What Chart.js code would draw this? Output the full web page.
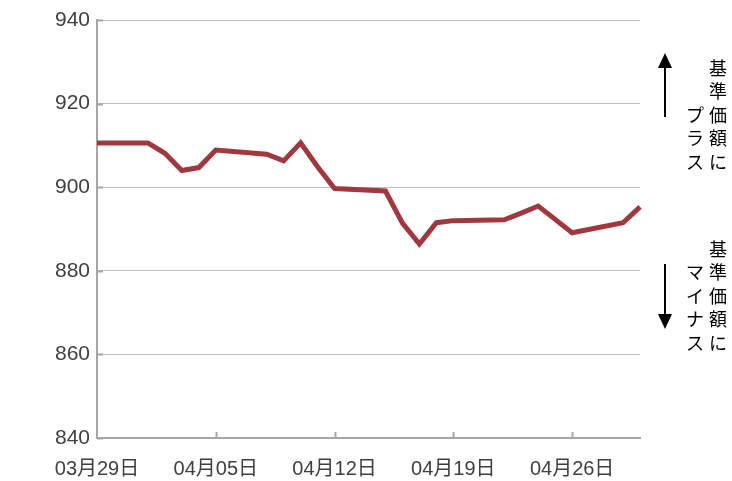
<!DOCTYPE html>
<html>
<head>
<meta charset="utf-8">
<script src="https://cdn.jsdelivr.net/npm/chart.js@4"></script>
<style>
  html, body { margin: 0; padding: 0; background: #fff; }
  #wrap { width: 732px; height: 481px; }
</style>
</head>
<body>
<div id="wrap"><canvas id="myChart" width="732" height="481"></canvas></div>
<script>
// calendar days 03/29 - 04/30, weekends have no value
const dates = [
  '03月29日','03月30日','03月31日','04月01日','04月02日','04月03日','04月04日',
  '04月05日','04月06日','04月07日','04月08日','04月09日','04月10日','04月11日',
  '04月12日','04月13日','04月14日','04月15日','04月16日','04月17日','04月18日',
  '04月19日','04月20日','04月21日','04月22日','04月23日','04月24日','04月25日',
  '04月26日','04月27日','04月28日','04月29日','04月30日'
];
const navValues = [
  910.6, null, null, 910.6, 908.1, 904.0, 904.7,
  908.9, null, null, 907.9, 906.3, 910.6, 904.9,
  899.7, null, null, 899.1, 891.4, 886.4, 891.5,
  892.0, null, null, 892.2, 893.8, 895.5, 892.3,
  889.1, null, null, 891.5, 895.3
];
const yTicks = [840, 860, 880, 900, 920, 940];
const upperNote = ['基準価額に', 'プラス'];
const lowerNote = ['基準価額に', 'マイナス'];

const FONT = '"Liberation Sans", "Noto Sans CJK JP", sans-serif';
const NOTE_FONT = '"Noto Sans CJK JP", sans-serif';

// inward tick marks + right side notes
const extras = {
  id: 'extras',
  afterDraw(chart) {
    const ctx = chart.ctx;
    const x = chart.scales.x, y = chart.scales.y;
    const area = chart.chartArea;
    ctx.save();
    ctx.strokeStyle = '#a6a6a6';
    ctx.lineWidth = 2;
    dates.forEach((d, i) => {
      if (i % 7 !== 0 || i === 0) return;
      const px = Math.round(x.getPixelForValue(i)) + 0.5;
      ctx.beginPath();
      ctx.moveTo(px, area.bottom);
      ctx.lineTo(px, area.bottom - 6);
      ctx.stroke();
    });
    yTicks.forEach(v => {
      const py = Math.round(y.getPixelForValue(v)) + 0.5;
      ctx.beginPath();
      ctx.moveTo(area.left, py);
      ctx.lineTo(area.left + 6, py);
      ctx.stroke();
    });

    // arrows
    ctx.strokeStyle = '#000';
    ctx.fillStyle = '#000';
    ctx.lineWidth = 2;
    const ax = 665;
    ctx.beginPath(); ctx.moveTo(ax, 117); ctx.lineTo(ax, 66); ctx.stroke();
    ctx.beginPath(); ctx.moveTo(ax, 53); ctx.lineTo(ax - 7, 68); ctx.lineTo(ax + 7, 68); ctx.closePath(); ctx.fill();
    ctx.beginPath(); ctx.moveTo(ax, 264); ctx.lineTo(ax, 316); ctx.stroke();
    ctx.beginPath(); ctx.moveTo(ax, 329); ctx.lineTo(ax - 7, 314); ctx.lineTo(ax + 7, 314); ctx.closePath(); ctx.fill();

    // vertical notes
    ctx.font = '18px ' + NOTE_FONT;
    ctx.fillStyle = '#000';
    ctx.textAlign = 'center';
    ctx.textBaseline = 'middle';
    const step = 23.5;
    function column(text, cx, bottomY) {
      const chars = Array.from(text);
      chars.forEach((c, k) => {
        ctx.fillText(c, cx, bottomY - (chars.length - 1 - k) * step);
      });
    }
    column(upperNote[0], 718, 162);
    column(upperNote[1], 695, 162);
    column(lowerNote[0], 718, 343);
    column(lowerNote[1], 695, 343);
    ctx.restore();
  }
};

new Chart(document.getElementById('myChart').getContext('2d'), {
  type: 'line',
  data: {
    labels: dates,
    datasets: [{
      data: navValues,
      borderColor: '#a0393f',
      borderWidth: 5,
      pointRadius: 0,
      tension: 0,
      spanGaps: true,
      borderJoinStyle: 'miter'
    }]
  },
  options: {
    responsive: false,
    animation: false,
    layout: { padding: { top: 20, right: 92, left: 0, bottom: 0 } },
    plugins: { legend: { display: false }, tooltip: { enabled: false } },
    scales: {
      x: {
        offset: false,
        grid: { display: false },
        border: { color: '#a6a6a6', width: 2 },
        afterFit: s => { s.height = 43; },
        ticks: {
          autoSkip: false,
          maxRotation: 0,
          color: '#404040',
          font: { size: 20, family: FONT },
          padding: 11,
          callback: (v, i) => (i % 7 === 0 ? dates[i] : '')
        }
      },
      y: {
        min: 840,
        max: 940,
        afterBuildTicks: s => { s.ticks = yTicks.map(v => ({ value: v })); },
        afterFit: s => { s.width = 97; },
        grid: { color: '#bfbfbf', lineWidth: 1, drawTicks: false },
        border: { color: '#a6a6a6', width: 2 },
        ticks: {
          color: '#404040',
          font: { size: 21, family: FONT },
          padding: 7
        }
      }
    }
  },
  plugins: [extras]
});
</script>
</body>
</html>
